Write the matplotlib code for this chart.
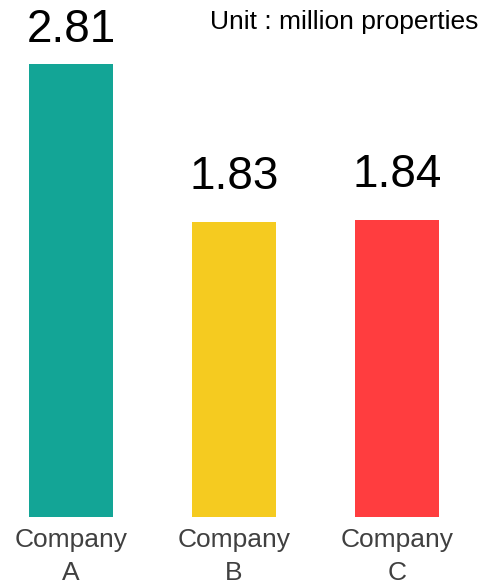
import matplotlib
matplotlib.use("Agg")
import matplotlib.pyplot as plt

# data
companies = ["Company\nA", "Company\nB", "Company\nC"]
values = [2.81, 1.83, 1.84]
colors = ["#13A596", "#F5CB20", "#FF3D3F"]

plt.rcParams['font.family'] = ['Liberation Sans', 'DejaVu Sans']

fig = plt.figure(figsize=(4.97, 5.81), dpi=100)
ax = fig.add_axes([0, 64 / 581, 1, 517 / 581])

x = range(len(values))
ax.bar(x, values, width=0.515, color=colors)

ymax = 517 / 161.2
for xi, v in zip(x, values):
    # labels sit well above the bar, but the tallest one is squeezed under the top edge
    off = 16.5 if v < ymax - 0.5 else 8.5
    ax.annotate(f"{v:.2f}", (xi, v), xytext=(0, off), textcoords="offset points",
                ha="center", va="bottom", fontsize=33, color="black")

ax.set_xlim(-71 / 163, (497 - 71) / 163)
ax.set_ylim(0, ymax)
ax.set_xticks(list(x))
ax.set_xticklabels(companies, fontsize=19, color="#404040", linespacing=1.45)
ax.tick_params(axis="x", length=0, pad=8)
ax.set_yticks([])
for s in ax.spines.values():
    s.set_visible(False)

fig.text(478 / 497, 1 - 10 / 581, "Unit : million properties", ha="right", va="top",
         fontsize=19, color="black")

fig.savefig("out.png", dpi=100)
